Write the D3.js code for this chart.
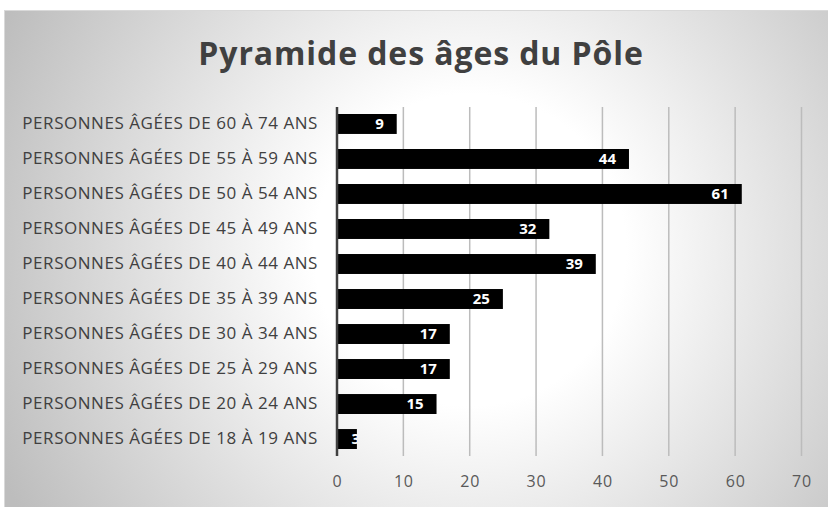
<!DOCTYPE html>
<html>
<head>
<meta charset="utf-8">
<script src="https://cdn.jsdelivr.net/npm/d3@7"></script>
<style>
  html, body { margin: 0; padding: 0; background: #fff; }
  svg { display: block; }
</style>
</head>
<body>
<svg id="chart" width="828" height="507"></svg>
<script>
const categories = [
  "PERSONNES ÂGÉES DE 60 À 74 ANS",
  "PERSONNES ÂGÉES DE 55 À 59 ANS",
  "PERSONNES ÂGÉES DE 50 À 54 ANS",
  "PERSONNES ÂGÉES DE 45 À 49 ANS",
  "PERSONNES ÂGÉES DE 40 À 44 ANS",
  "PERSONNES ÂGÉES DE 35 À 39 ANS",
  "PERSONNES ÂGÉES DE 30 À 34 ANS",
  "PERSONNES ÂGÉES DE 25 À 29 ANS",
  "PERSONNES ÂGÉES DE 20 À 24 ANS",
  "PERSONNES ÂGÉES DE 18 À 19 ANS"
];
const values = [9, 44, 61, 32, 39, 25, 17, 17, 15, 3];
const xTicks = [0, 10, 20, 30, 40, 50, 60, 70];
const title = "Pyramide des âges du Pôle";

const width = 828, height = 507;
const plot = { left: 337, right: 801.5, top: 107, bottom: 456 };

const svg = d3.select("#chart");

// background with soft radial shading, like the office chart
const defs = svg.append("defs");
const grad = defs.append("radialGradient")
    .attr("id", "bg")
    .attr("gradientUnits", "userSpaceOnUse")
    .attr("cx", 470).attr("cy", 250).attr("r", 520);
grad.append("stop").attr("offset", "0%").attr("stop-color", "#ffffff");
grad.append("stop").attr("offset", "30%").attr("stop-color", "#ffffff");
grad.append("stop").attr("offset", "100%").attr("stop-color", "#bdbdbd");

svg.append("rect")
    .attr("x", 4).attr("y", 10)
    .attr("width", width - 4).attr("height", height - 10)
    .attr("fill", "url(#bg)");
svg.append("rect")
    .attr("x", 4.5).attr("y", 10.5)
    .attr("width", width).attr("height", height)
    .attr("fill", "none")
    .attr("stroke", "#d9d9d9");

svg.append("text")
    .attr("x", 421)
    .attr("y", 65)
    .attr("text-anchor", "middle")
    .style("font-family", "'Open Sans', sans-serif")
    .style("font-weight", "700")
    .style("font-size", "32px")
    .style("letter-spacing", "0.9px")
    .attr("fill", "#404040")
    .text(title);

const x = d3.scaleLinear().domain([0, 70]).range([plot.left, plot.right]);
const y = d3.scaleBand().domain(categories).range([plot.top, plot.bottom]).paddingInner(0.43).paddingOuter(0.2);

// gridlines
svg.append("g")
    .selectAll("line")
    .data(xTicks.slice(1))
    .join("line")
    .attr("x1", d => x(d)).attr("x2", d => x(d))
    .attr("y1", plot.top).attr("y2", plot.bottom)
    .attr("stroke", "#bcbcbc")
    .attr("stroke-width", 1.5);

// bars
svg.append("g")
    .selectAll("rect")
    .data(values)
    .join("rect")
    .attr("x", x(0))
    .attr("y", (d, i) => y(categories[i]))
    .attr("width", d => x(d) - x(0))
    .attr("height", y.bandwidth())
    .attr("fill", "#000");

// value labels inside bar end, clipped to the bar like the original
const labels = svg.append("g");
values.forEach((d, i) => {
    defs.append("clipPath").attr("id", "clip" + i)
        .append("rect")
        .attr("x", x(0)).attr("y", y(categories[i]))
        .attr("width", x(d) - x(0)).attr("height", y.bandwidth());
    labels.append("text")
        .attr("clip-path", `url(#clip${i})`)
        .attr("x", Math.max(x(d) - 13, x(0) + 23))
        .attr("y", y(categories[i]) + y.bandwidth() / 2)
        .attr("dy", "0.36em")
        .attr("text-anchor", "end")
        .style("font-family", "'Open Sans', sans-serif")
        .style("font-weight", "700")
        .style("font-size", "15px")
        .attr("fill", "#fff")
        .text(d);
});

// vertical axis line
svg.append("line")
    .attr("x1", plot.left).attr("x2", plot.left)
    .attr("y1", plot.top).attr("y2", plot.bottom)
    .attr("stroke", "#404040")
    .attr("stroke-width", 2.5);

// category labels
const yAxis = svg.append("g")
    .attr("transform", `translate(${318},0)`)
    .call(d3.axisLeft(y).tickSize(0).tickPadding(0));
yAxis.select(".domain").remove();
yAxis.selectAll("text")
    .style("font-family", "'Open Sans', sans-serif")
    .style("font-size", "17px")
    .style("letter-spacing", "0.55px")
    .attr("fill", "#404040");

// x tick labels
const xAxis = svg.append("g")
    .attr("transform", `translate(0,${plot.bottom})`)
    .call(d3.axisBottom(x).tickValues(xTicks).tickSize(0).tickPadding(20));
xAxis.select(".domain").remove();
xAxis.selectAll("text")
    .style("font-family", "'Open Sans', sans-serif")
    .style("font-size", "16px")
    .style("letter-spacing", "0.8px")
    .attr("fill", "#595959");
</script>
</body>
</html>
